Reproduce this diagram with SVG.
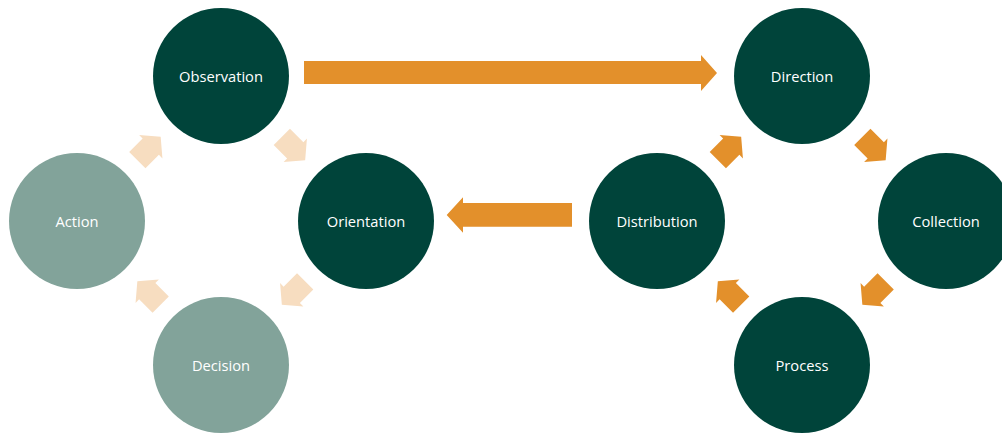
<svg xmlns="http://www.w3.org/2000/svg" width="1002" height="433" viewBox="0 0 1002 433">
  <defs>
    <style>
      .dark { fill: #00443A; }
      .muted { fill: #82A39A; }
      .label { fill: #FFFFFF; font-family: "Open Sans", "Noto Sans", sans-serif; font-size: 14.7px; text-anchor: middle; dominant-baseline: central; }
      .big { fill: #E3902B; }
      .pale { fill: #F7DDC0; }
      .hot { fill: #E3902B; }
    </style>
    <!-- block arrow pointing right, centred on its own midpoint -->
    <path id="blk" d="M-16.5,-11.5 H2.5 V-16.5 L16.5,0 L2.5,16.5 V11.5 H-16.5 Z"/>
  </defs>

  <g id="connectors">
    <!-- long arrows between the two cycles -->
    <path class="big" d="M304,61 H701 V55 L717,73 L701,91 V84 H304 Z"/>
    <path class="big" d="M572,203 H463 V197.3 L446.7,215 L463,232.7 V226.7 H572 Z"/>

    <!-- OODA cycle -->
    <use href="#blk" class="pale" transform="translate(149,148.5) rotate(-45)"/>
    <use href="#blk" class="pale" transform="translate(293.5,148.5) rotate(45)"/>
    <use href="#blk" class="pale" transform="translate(293.5,293) rotate(135)"/>
    <use href="#blk" class="pale" transform="translate(149,293) rotate(225)"/>

    <!-- intelligence cycle -->
    <use href="#blk" class="hot" transform="translate(729.5,148.5) rotate(-45)"/>
    <use href="#blk" class="hot" transform="translate(874,148.5) rotate(45)"/>
    <use href="#blk" class="hot" transform="translate(874,293) rotate(135)"/>
    <use href="#blk" class="hot" transform="translate(729.5,293) rotate(225)"/>
  </g>

  <g id="observation">
    <circle class="dark" cx="221" cy="76" r="68"/>
    <text class="label" x="221" y="76">Observation</text>
  </g>
  <g id="orientation">
    <circle class="dark" cx="366" cy="221" r="68"/>
    <text class="label" x="366" y="221">Orientation</text>
  </g>
  <g id="decision">
    <circle class="muted" cx="221" cy="365" r="68"/>
    <text class="label" x="221" y="365">Decision</text>
  </g>
  <g id="action">
    <circle class="muted" cx="77" cy="221" r="68"/>
    <text class="label" x="77" y="221">Action</text>
  </g>

  <g id="direction">
    <circle class="dark" cx="802" cy="76" r="68"/>
    <text class="label" x="802" y="76">Direction</text>
  </g>
  <g id="collection">
    <circle class="dark" cx="946" cy="221" r="68"/>
    <text class="label" x="946" y="221">Collection</text>
  </g>
  <g id="process">
    <circle class="dark" cx="802" cy="365" r="68"/>
    <text class="label" x="802" y="365">Process</text>
  </g>
  <g id="distribution">
    <circle class="dark" cx="657" cy="221" r="68"/>
    <text class="label" x="657" y="221">Distribution</text>
  </g>
</svg>
